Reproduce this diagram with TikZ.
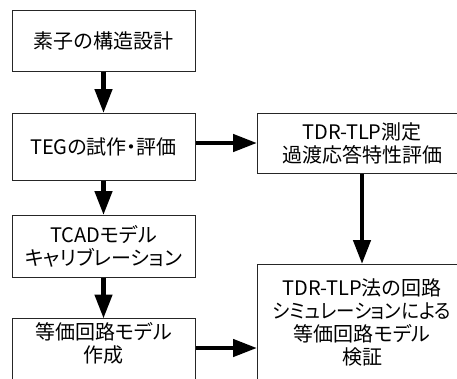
\documentclass[tikz,border=0pt]{standalone}
\usepackage{fontspec}
\setmainfont[RawFeature=+palt]{Noto Sans CJK JP}
\usetikzlibrary{arrows.meta}
\begin{document}
\begin{tikzpicture}[x=1pt,y=-1pt,
  box/.style={draw=black!85, line width=1pt, rectangle, inner sep=0pt, align=center,
    font=\fontsize{20}{23}\selectfont},
  txt/.style={inner sep=0pt, align=center, font=\fontsize{20}{23}\selectfont},
  flow/.style={line width=4.5pt, -{Triangle[length=24pt,width=17pt]}, shorten >=-0.5pt}]
\useasboundingbox (0,0) rectangle (457,378);
\clip (0,0) rectangle (457,378);
\node[box, minimum width=183, minimum height=61] (b1) at (103.5,40.5) {素子の構造設計};
\node[box, minimum width=183, minimum height=67] (b2) at (103.5,146.5) {TEGの試作・評価};
\node[box, minimum width=183, minimum height=62] (b3) at (103.5,246) {TCADモデル\\キャリブレーション};
\node[box, minimum width=183, minimum height=64, anchor=north] (b4) at (103.5,318) {};
\node[txt] (t4) at (103.5,343.5) {等価回路モデル\\作成};
\node[box, minimum width=210, minimum height=60] (b5) at (362,143) {TDR-TLP測定\\過渡応答特性評価};
\node[box, minimum width=210, minimum height=116] (b6) at (362,322) {TDR-TLP法の回路\\\scalebox{0.92}[1]{シミュレーションによる}\\等価回路モデル\\検証};
\draw[flow] (b1.south) -- (b2.north);
\draw[flow] (b2.south) -- (b3.north);
\draw[flow] (b3.south) -- (b4.north);
\draw[flow] (b2.east |- 0,143) -- (b5.west |- 0,143);
\draw[flow] (b5.south) -- (b6.north);
\draw[flow] (b4.east |- 0,348) -- (b6.west |- 0,348);
\end{tikzpicture}
\end{document}
